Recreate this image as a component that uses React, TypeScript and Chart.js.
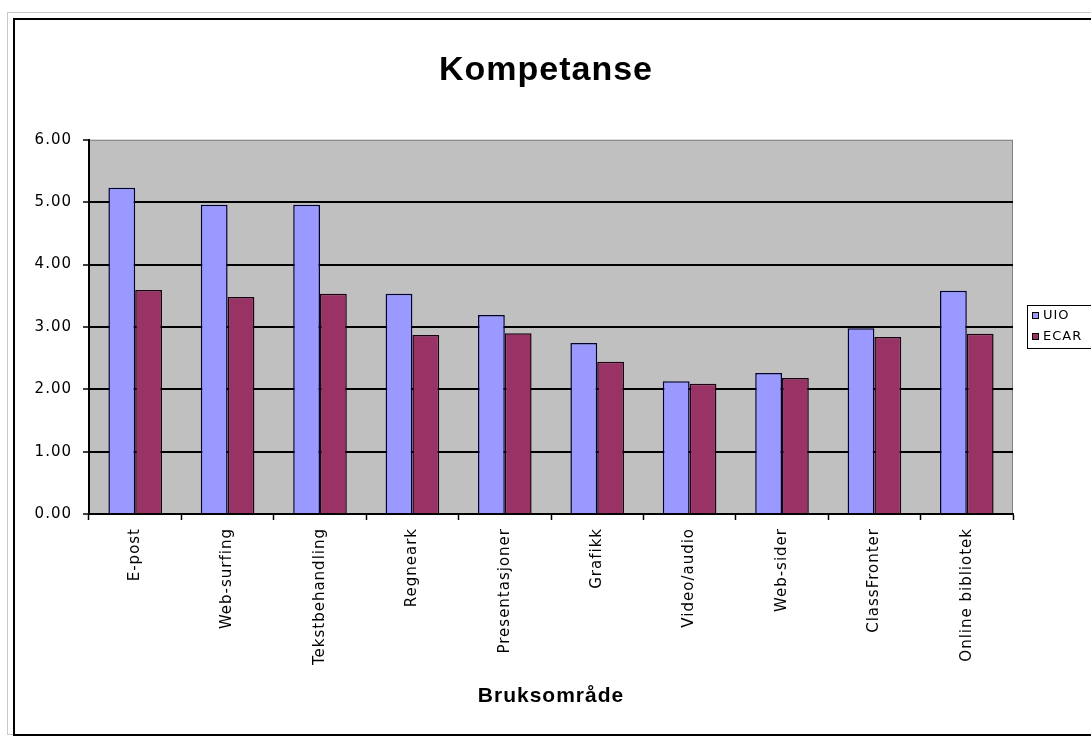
import React, { useEffect, useRef } from "react";
import { Chart, registerables } from "chart.js";

Chart.register(...registerables);

const categories = [
  "E-post",
  "Web-surfing",
  "Tekstbehandling",
  "Regneark",
  "Presentasjoner",
  "Grafikk",
  "Video/audio",
  "Web-sider",
  "ClassFronter",
  "Online bibliotek",
];
const uioValues = [5.23, 4.96, 4.96, 3.53, 3.19, 2.74, 2.13, 2.26, 2.98, 3.58];
const ecarValues = [3.59, 3.48, 3.53, 2.87, 2.9, 2.44, 2.09, 2.18, 2.84, 2.89];
const seriesNames = ["UIO", "ECAR"];
const seriesColors = ["#9999FF", "#993366"];
const yTicks = [0, 1, 2, 3, 4, 5, 6];

const spacing = {
  id: "spacing",
  beforeUpdate(chart: any) {
    chart.ctx.letterSpacing = "1px";
  },
  beforeDraw(chart: any) {
    chart.ctx.letterSpacing = "1px";
  },
};

const plotBg = {
  id: "plotBg",
  beforeDraw(chart: any) {
    const { ctx, chartArea } = chart;
    ctx.save();
    ctx.fillStyle = "#C0C0C0";
    ctx.fillRect(chartArea.left, chartArea.top, chartArea.right - chartArea.left, chartArea.bottom - chartArea.top);
    ctx.strokeStyle = "#808080";
    ctx.lineWidth = 1;
    ctx.strokeRect(chartArea.left + 0.5, chartArea.top + 0.5, chartArea.right - chartArea.left - 1, chartArea.bottom - chartArea.top - 1);
    ctx.restore();
  },
};

const boxLegend = {
  id: "boxLegend",
  afterDraw(chart: any) {
    const { ctx } = chart;
    const x = 1027;
    const y = 305;
    ctx.save();
    ctx.fillStyle = "#fff";
    ctx.fillRect(x, y, 70, 43);
    ctx.strokeStyle = "#000";
    ctx.lineWidth = 1;
    ctx.strokeRect(x + 0.5, y + 0.5, 70, 43);
    ctx.font = "13px 'DejaVu Sans'";
    ctx.textBaseline = "middle";
    chart.data.datasets.forEach((ds: any, i: number) => {
      const cy = y + 11 + i * 21;
      ctx.fillStyle = ds.backgroundColor;
      ctx.fillRect(x + 6, cy - 3, 6, 6);
      ctx.strokeStyle = "#000";
      ctx.strokeRect(x + 5.5, cy - 3.5, 6, 6);
      ctx.fillStyle = "#000";
      ctx.fillText(ds.label, x + 16, cy);
    });
    ctx.restore();
  },
};

export default function App() {
  const ref = useRef<HTMLCanvasElement>(null);
  useEffect(() => {
    if (!ref.current) return;
    const chart = new Chart(ref.current, {
      type: "bar",
      data: {
        labels: categories,
        datasets: [
          {
            label: seriesNames[0],
            data: uioValues,
            backgroundColor: seriesColors[0],
            borderColor: "#000033",
            borderWidth: 1.5,
            categoryPercentage: 0.58,
            barPercentage: 1,
          },
          {
            label: seriesNames[1],
            data: ecarValues,
            backgroundColor: seriesColors[1],
            borderColor: "#1a0010",
            borderWidth: 1.5,
            categoryPercentage: 0.58,
            barPercentage: 1,
          },
        ],
      },
      options: {
        responsive: false,
        animation: false,
        devicePixelRatio: 1,
        layout: { padding: { left: 20, right: 19, top: 20, bottom: 0 } },
        plugins: {
          legend: { display: false },
          tooltip: { enabled: false },
          title: {
            display: true,
            text: "Kompetanse",
            color: "#000",
            font: { family: "'Liberation Sans', Arial", size: 34, weight: "bold" },
            padding: { top: 30, bottom: 49 },
          },
        },
        scales: {
          x: {
            afterFit: (s: any) => {
              s.height = 222;
            },
            grid: {
              offset: true,
              drawOnChartArea: false,
              tickLength: 6,
              tickColor: "#000",
              tickWidth: 1.5,
            },
            border: { color: "#000", width: 2 },
            ticks: {
              color: "#000",
              minRotation: 90,
              maxRotation: 90,
              autoSkip: false,
              padding: 8,
              font: { family: "'DejaVu Sans'", size: 15 },
            },
            title: {
              display: true,
              text: "Bruksområde",
              color: "#000",
              font: { family: "'Liberation Sans', Arial", size: 21, weight: "bold" },
              padding: { top: 0, bottom: 27 },
            },
          },
          y: {
            min: 0,
            max: 6,
            afterFit: (s: any) => {
              s.width = 69;
            },
            afterBuildTicks: (s: any) => {
              s.ticks = yTicks.map((v) => ({ value: v }));
            },
            grid: {
              color: (c: any) => (c.tick && c.tick.value === 6 ? "rgba(0,0,0,0)" : "#000"),
              lineWidth: 2,
              tickLength: 6,
              tickColor: "#000",
              tickWidth: 1.5,
            },
            border: { color: "#000", width: 2 },
            ticks: {
              color: "#000",
              padding: 11,
              font: { family: "'DejaVu Sans'", size: 15 },
              callback: (v: any) => Number(v).toFixed(2),
            },
          },
          spacer: {
            type: "linear",
            position: "right",
            display: true,
            afterFit: (s: any) => {
              s.width = 59;
            },
            grid: { display: false },
            border: { display: false },
            ticks: { display: false },
          },
        },
      },
      plugins: [spacing, plotBg, boxLegend],
    });
    return () => chart.destroy();
  }, []);

  return (
    <div style={{ position: "fixed", left: 0, top: 0, width: 1091, height: 736, background: "#fff", overflow: "hidden" }}>
      <div style={{ position: "absolute", left: 7, top: 12, width: 1200, height: 721, border: "1px solid #C8C8C8" }} />
      <div style={{ position: "absolute", left: 13, top: 18, width: 1200, height: 714, border: "2px solid #000" }} />
      <canvas ref={ref} width={1091} height={736} style={{ position: "absolute", left: 0, top: 0, display: "block" }} />
    </div>
  );
}
